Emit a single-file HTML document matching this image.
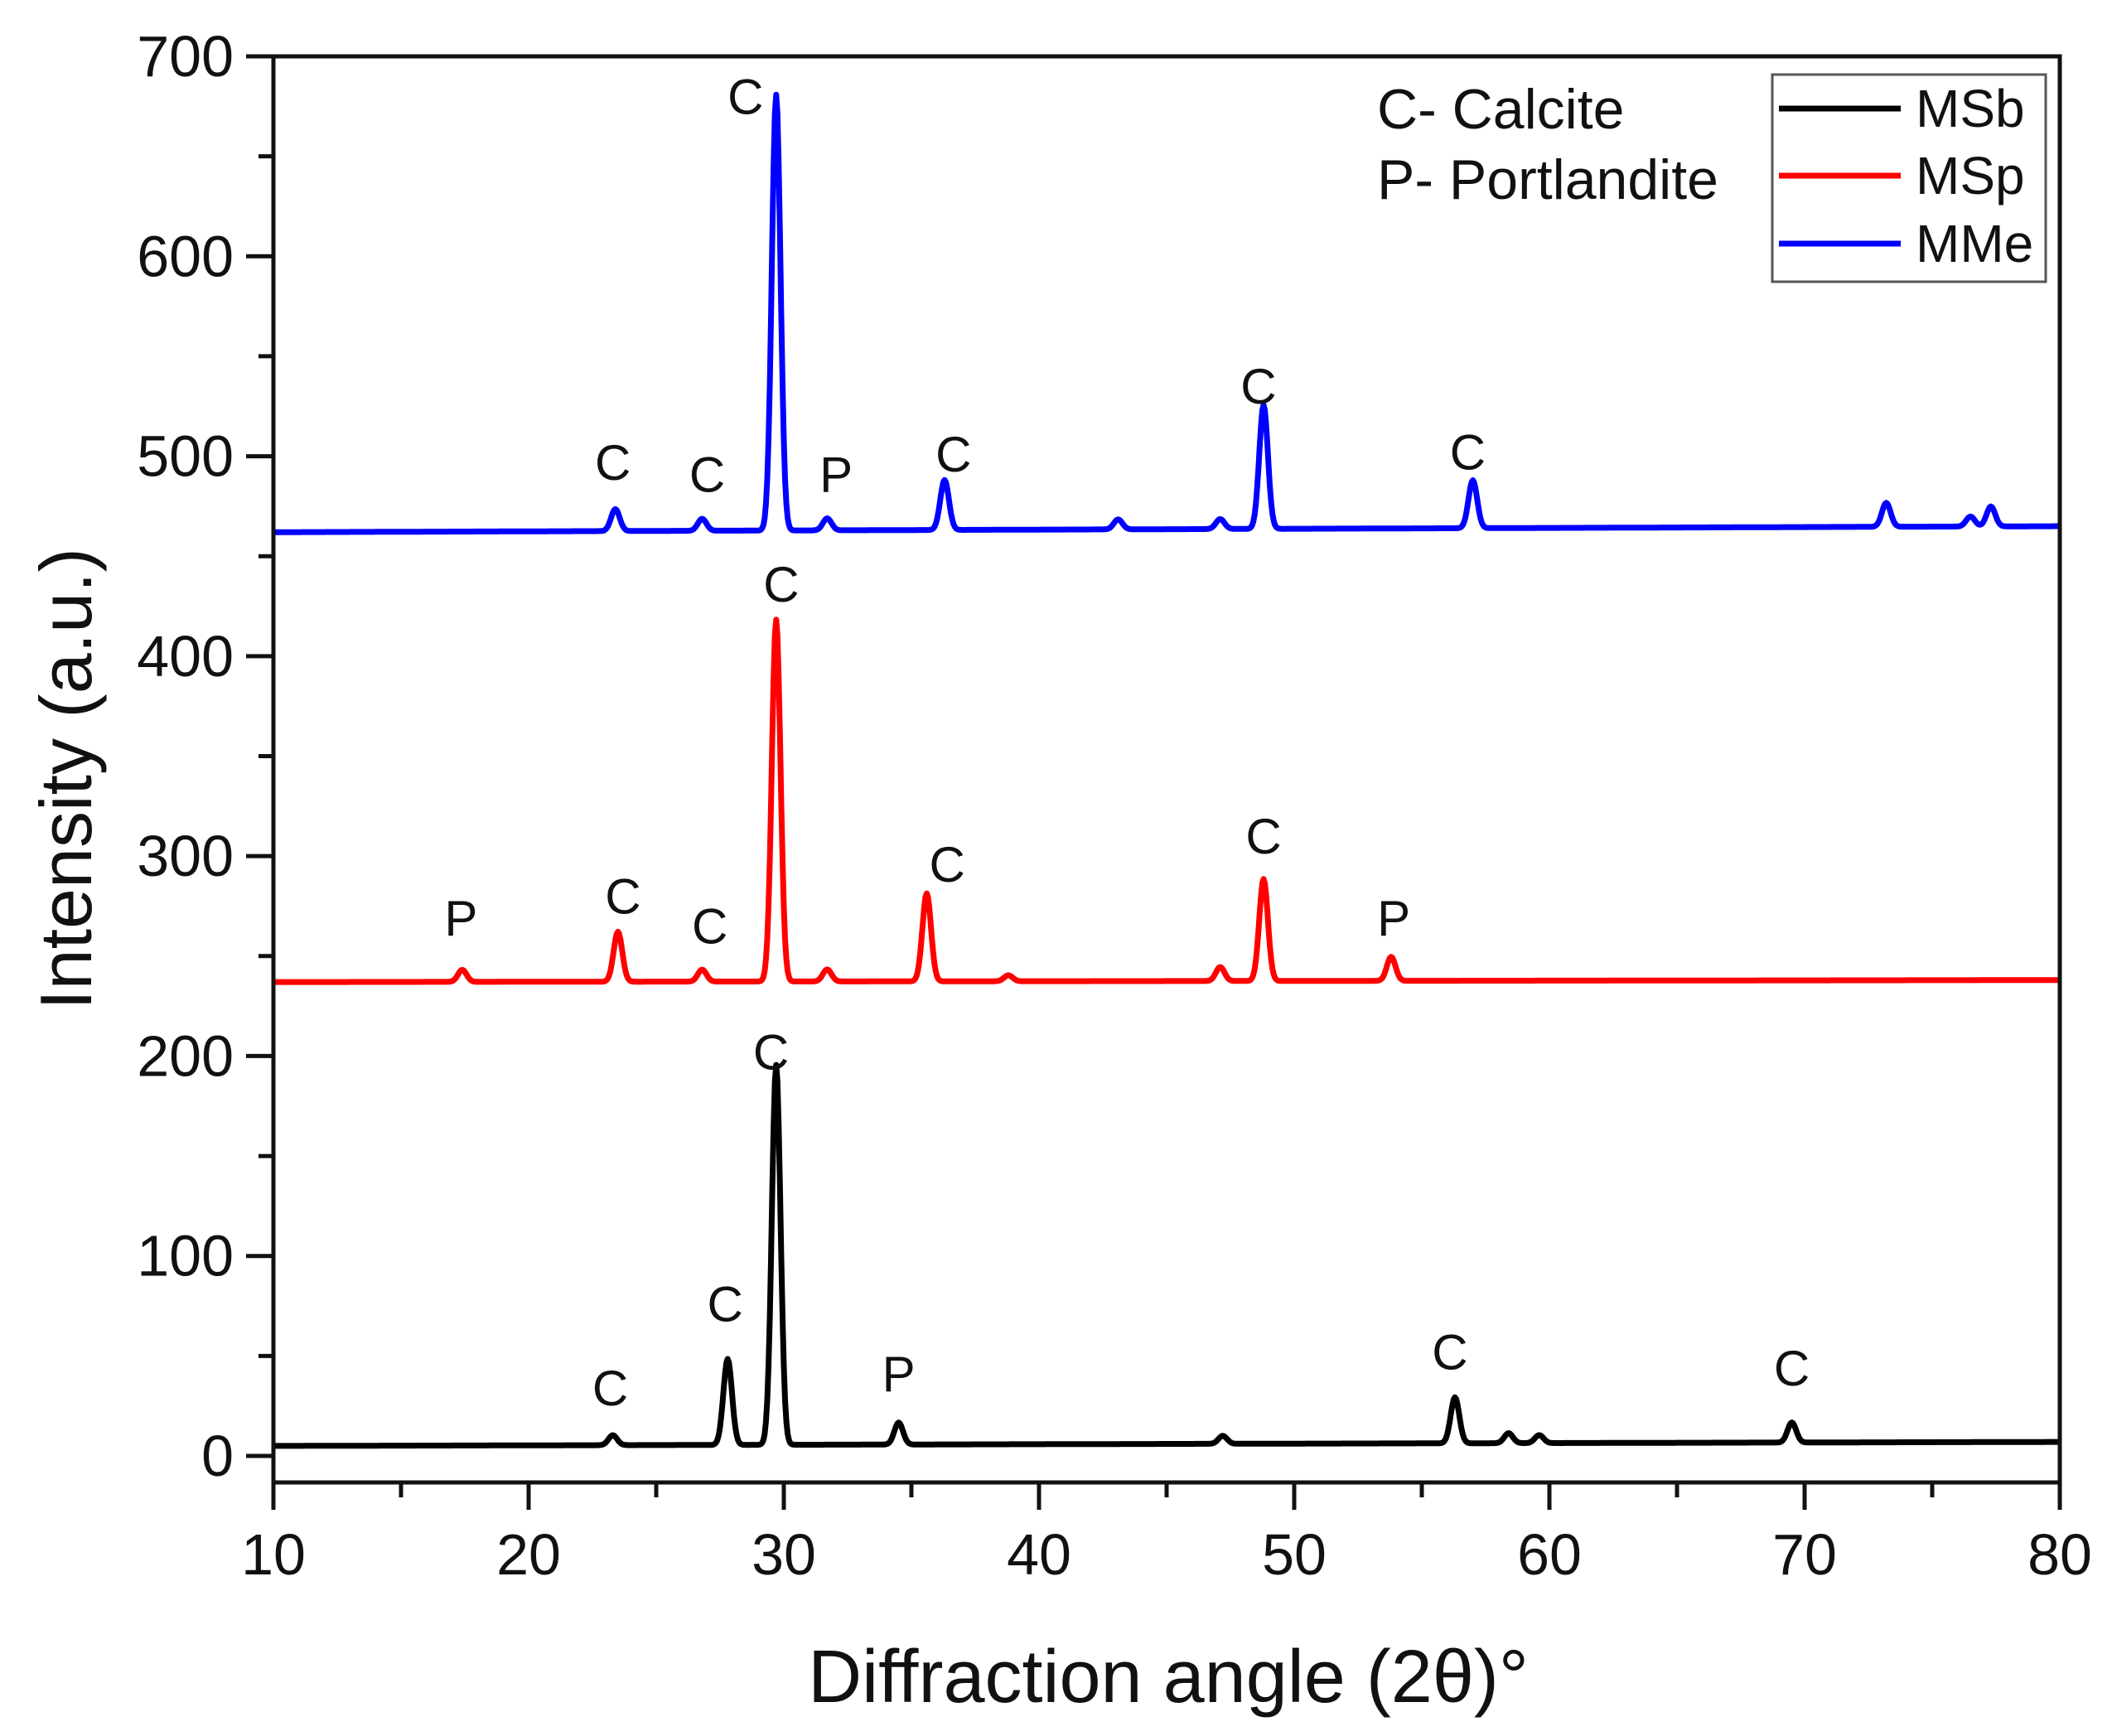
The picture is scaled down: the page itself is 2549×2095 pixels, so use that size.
<!DOCTYPE html>
<html><head><meta charset="utf-8"><style>
html,body{margin:0;padding:0;background:#fff}
svg{display:block}
text{font-family:"Liberation Sans",Arial,sans-serif;fill:#111}
</style></head><body>
<svg id="chart" width="2549" height="2095" viewBox="0 0 2549 2095" xmlns="http://www.w3.org/2000/svg">
<g id="plot"></g>
</svg>
<script>
// Data arrays
const xTicks = [10,20,30,40,50,60,70,80];
const yTicks = [0,100,200,300,400,500,600,700];
const seriesNames = ["MSb","MSp","MMe"];
const seriesColors = ["#000000","#ff0000","#0000ff"];
const baseStart = [5,237,462];
const baseEnd = [7,238,465];
const msbPos = [23.3,27.8,29.7,34.5,47.2,56.3,58.4,59.6,69.5];
const msbHeight = [10,48,195,16,9,28,10,9,15];
const mspPos = [17.4,23.5,26.8,29.7,31.7,35.6,38.8,47.1,48.8,53.8];
const mspHeight = [243,262,243,418,243,281,240,244,288,249];
const mmePos = [23.4,26.8,29.7,31.7,36.3,43.1,47.1,48.8,57.0,73.2,76.5,77.3];
const mmeHeight = [473,468,680,468,487,467,467,524,486,474,467,472];
const annText = ["C","C","C","P","C","C","C", "P","C","C","C","C","C","P", "C","C","C","P","C","C"];
const annX = [23.3,27.0,28.5,32.05,36.65,48.6,56.8, 17.35,23.7,27.1,29.9,36.4,48.8,53.9, 23.2,27.7,29.5,34.5,56.1,69.5];
const annY = [497,491,680,491,501,535,502, 269,280,265,436,296,310,269, 34,76,202,41,52,44];

// Axes
const L=330,R=2486,T=68,B0=1757,AXB=1789;
const xs = v => L + (v-10)/70*(R-L);
const ys = v => B0 - v/700*(B0-T);
const NS="http://www.w3.org/2000/svg";
const g=document.getElementById('plot');
function mk(tag,attrs,parent){const e=document.createElementNS(NS,tag);for(const k in attrs)e.setAttribute(k,attrs[k]);(parent||g).appendChild(e);return e;}

// series
const allPos=[msbPos,mspPos,mmePos], allH=[msbHeight,mspHeight,mmeHeight];
for(let s=0;s<3;s++){
  let d="";
  for(let i=0;i<=1400;i++){
    const x=10+i*0.05;
    const base=baseStart[s]+(baseEnd[s]-baseStart[s])*(x-10)/70;
    let y=base;
    allPos[s].forEach((p,k)=>{const h=allH[s][k]-baseStart[s];const w=0.2;const dx=(x-p)/w;y+=h*Math.exp(-dx*dx*0.7);});
    d+=(i?"L":"M")+xs(x).toFixed(1)+","+ys(y).toFixed(1);
  }
  const p=mk('path',{d:d,fill:"none",stroke:seriesColors[s],"stroke-width":7,"stroke-linejoin":"round"});
  
  
}

// annotations
annText.forEach((t,i)=>{
  const e=mk('text',{x:xs(annX[i]),y:ys(annY[i])+21,"text-anchor":"middle","font-size":60});
  e.textContent=t;
  
  
});

// frame
const fr=mk('rect',{x:L,y:T,width:R-L,height:AXB-T,fill:"none",stroke:"#111","stroke-width":5});



// y ticks
yTicks.forEach(v=>{
  mk('line',{x1:L-33,x2:L,y1:ys(v),y2:ys(v),stroke:"#111","stroke-width":5});
  if(v<700) mk('line',{x1:L-18,x2:L,y1:ys(v+50),y2:ys(v+50),stroke:"#111","stroke-width":5});
  const e=mk('text',{x:L-48,y:ys(v)+24,"text-anchor":"end","font-size":70});
  e.textContent=v;
  
  
});
// x ticks
xTicks.forEach(v=>{
  mk('line',{x1:xs(v),x2:xs(v),y1:AXB,y2:AXB+33,stroke:"#111","stroke-width":5});
  if(v<80) mk('line',{x1:xs(v+5),x2:xs(v+5),y1:AXB,y2:AXB+18,stroke:"#111","stroke-width":5});
  const e=mk('text',{x:xs(v),y:1900,"text-anchor":"middle","font-size":70});
  e.textContent=v;
  
  
});

// titles
const xt=mk('text',{x:1410,y:2054,"text-anchor":"middle","font-size":90});
xt.textContent="Diffraction angle (2θ)°";


const yt=mk('text',{x:0,y:0,"text-anchor":"middle","font-size":88,transform:"translate(110,940) rotate(-90)"});
yt.textContent="Intensity (a.u.)";



// phase key
const k1=mk('text',{x:1662,y:155,"font-size":68});k1.textContent="C- Calcite";


const k2=mk('text',{x:1662,y:240,"font-size":68});k2.textContent="P- Portlandite";



// legend
const lg=mk('rect',{x:2139,y:90,width:330,height:250,fill:"#fff",stroke:"#555","stroke-width":3});


const ly=[131,212,294];
seriesNames.forEach((n,i)=>{
  const ln=mk('line',{x1:2147,x2:2294,y1:ly[i],y2:ly[i],stroke:seriesColors[i],"stroke-width":7});
  
  
  const t=mk('text',{x:2312,y:ly[i]+22,"font-size":64});t.textContent=n;
  
  
});
</script>
</body></html>
